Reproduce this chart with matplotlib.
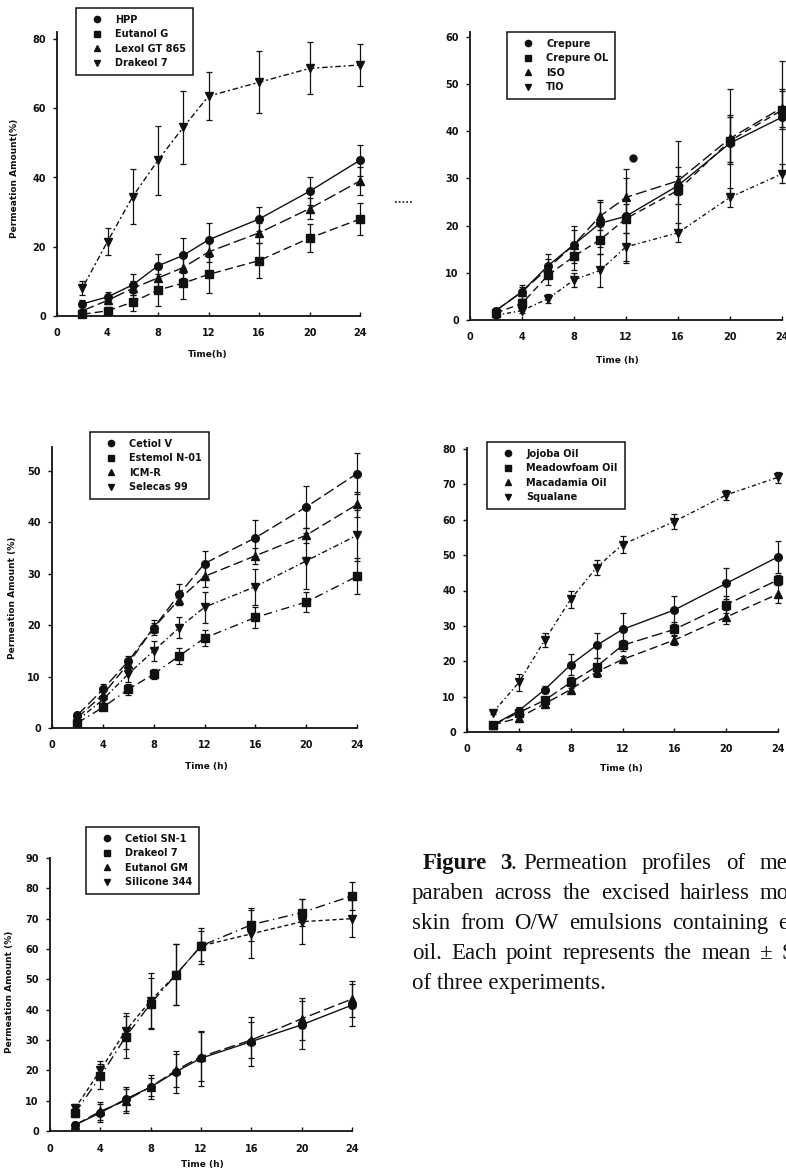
import matplotlib
matplotlib.use("Agg")
import matplotlib.pyplot as plt

W, H = 786, 1170
DPI = 100

hours = [2, 4, 6, 8, 10, 12, 16, 20, 24]

# panel 1
p1_labels = ["HPP", "Eutanol G", "Lexol GT 865", "Drakeol 7"]
p1_means = [
    [3.5, 5.5, 9.0, 14.5, 17.5, 22.0, 28.0, 36.0, 45.0],
    [0.5, 1.5, 4.0, 7.5, 9.5, 12.0, 16.0, 22.5, 28.0],
    [1.5, 4.5, 8.0, 11.0, 14.0, 18.5, 24.0, 31.0, 39.0],
    [8.0, 21.5, 34.5, 45.0, 54.5, 63.5, 67.5, 71.5, 72.5],
]
p1_errs = [
    [1.0, 1.5, 3.0, 3.5, 5.0, 5.0, 3.5, 4.0, 4.5],
    [0.5, 1.0, 2.5, 4.5, 4.5, 5.5, 5.0, 4.0, 4.5],
    [0.5, 1.0, 2.0, 2.5, 3.0, 3.0, 3.0, 3.0, 4.0],
    [2.0, 4.0, 8.0, 10.0, 10.5, 7.0, 9.0, 7.5, 6.0],
]

# panel 2
p2_labels = ["Crepure", "Crepure OL", "ISO", "TIO"]
p2_means = [
    [2.0, 6.0, 11.5, 16.0, 20.5, 22.0, 28.5, 37.5, 43.0],
    [1.5, 3.5, 9.5, 13.5, 17.0, 21.5, 27.5, 38.0, 44.5],
    [2.0, 6.0, 11.0, 16.0, 22.0, 26.0, 29.5, 38.5, 45.0],
    [1.0, 2.0, 4.5, 8.5, 10.5, 15.5, 18.5, 26.0, 31.0],
]
p2_errs = [
    [0.5, 1.5, 2.5, 4.0, 5.0, 10.0, 9.5, 11.5, 12.0],
    [0.5, 1.0, 2.0, 3.0, 3.0, 3.0, 3.0, 5.0, 4.0],
    [0.5, 1.0, 2.0, 3.0, 3.0, 4.0, 3.0, 5.0, 4.0],
    [0.5, 0.5, 1.0, 1.5, 3.5, 3.0, 2.0, 2.0, 2.0],
]
p2_stray_x, p2_stray_y = [12.5], [34.3]

# panel 3
p3_labels = ["Cetiol V", "Estemol N-01", "ICM-R", "Selecas 99"]
p3_means = [
    [2.5, 7.5, 13.0, 19.5, 26.0, 32.0, 37.0, 43.0, 49.5],
    [1.0, 4.0, 7.5, 10.5, 14.0, 17.5, 21.5, 24.5, 29.5],
    [2.0, 6.5, 12.5, 19.5, 25.0, 29.5, 33.5, 37.5, 43.5],
    [1.5, 5.5, 10.5, 15.0, 19.5, 23.5, 27.5, 32.5, 37.5],
]
p3_errs = [
    [0.5, 1.0, 1.0, 1.5, 2.0, 2.5, 3.5, 4.0, 4.0],
    [0.5, 0.5, 1.0, 1.0, 1.5, 1.5, 2.0, 2.0, 3.5],
    [0.5, 1.0, 1.0, 1.0, 1.0, 2.0, 1.5, 1.5, 2.5],
    [0.5, 1.0, 1.5, 2.0, 2.0, 3.0, 3.5, 5.5, 5.0],
]

# panel 4
p4_labels = ["Jojoba Oil", "Meadowfoam Oil", "Macadamia Oil", "Squalane"]
p4_means = [
    [2.0, 6.0, 12.0, 19.0, 24.5, 29.0, 34.5, 42.0, 49.5],
    [2.0, 5.5, 9.0, 14.0, 18.5, 24.5, 29.0, 36.0, 43.0],
    [2.0, 4.0, 8.0, 12.0, 17.0, 20.5, 26.0, 32.5, 39.0],
    [5.5, 14.0, 26.0, 37.5, 46.5, 53.0, 59.5, 67.0, 72.0],
]
p4_errs = [
    [0.5, 1.0, 1.0, 3.0, 3.5, 4.5, 4.0, 4.5, 4.5],
    [0.5, 1.0, 1.0, 1.5, 2.5, 1.5, 2.0, 2.5, 1.5],
    [0.5, 0.5, 1.0, 1.0, 1.5, 1.0, 1.5, 2.0, 2.5],
    [0.5, 2.5, 2.0, 2.5, 2.0, 2.5, 2.0, 1.5, 1.5],
]

# panel 5
p5_labels = ["Cetiol SN-1", "Drakeol 7", "Eutanol GM", "Silicone 344"]
p5_means = [
    [2.0, 6.0, 10.5, 14.5, 19.5, 24.0, 29.5, 35.0, 41.5],
    [6.0, 18.0, 31.0, 42.0, 51.5, 61.0, 68.0, 72.0, 77.5],
    [2.0, 6.5, 10.0, 14.5, 20.0, 24.5, 30.0, 37.0, 43.5],
    [7.5, 20.0, 33.0, 43.0, 51.5, 61.0, 65.0, 69.0, 70.0],
]
p5_errs = [
    [1.0, 3.0, 4.0, 3.0, 7.0, 9.0, 8.0, 8.0, 7.0],
    [1.5, 4.0, 7.0, 8.5, 10.0, 6.0, 5.5, 4.5, 4.5],
    [0.5, 3.0, 4.0, 4.0, 5.5, 8.0, 6.0, 7.0, 6.0],
    [1.5, 3.0, 6.0, 9.0, 10.0, 5.0, 8.0, 7.5, 6.0],
]

# caption: words per printed line; the scan cuts the page at the right edge
caption_lines = [
    ["Permeation", "profiles", "of", "methyl"],
    ["paraben", "across", "the", "excised", "hairless", "mouse"],
    ["skin", "from", "O/W", "emulsions", "containing", "each"],
    ["oil.", "Each", "point", "represents", "the", "mean", "\u00b1", "S.D."],
    ["of three experiments."],
]
# (x of first word, x of the last word that is still visible, its index)
caption_span = [
    (523, 760, 3),
    (412, 760, 5),
    (412, 778, 5),
    (412, 760, 6),
    (412, 412, 0),
]

MARKERS = ["o", "s", "^", "v"]
INK = "#111111"

fig = plt.figure(figsize=(W / DPI, H / DPI), dpi=DPI)
fig.patch.set_facecolor("white")


def make_ax(x0, x24, y0, ytick_px, ytick_val, ytop, yticks):
    # pixel positions of x=0, x=24, y=0 and one reference y tick
    ppu = (y0 - ytick_px) / ytick_val
    top_px = y0 - ytop * ppu
    ax = fig.add_axes([x0 / W, 1 - y0 / H, (x24 - x0) / W, (y0 - top_px) / H])
    ax.set_xlim(0, 24)
    ax.set_ylim(0, ytop)
    ax.set_facecolor("none")
    for s in ("top", "right"):
        ax.spines[s].set_visible(False)
    for s in ("left", "bottom"):
        ax.spines[s].set_linewidth(1.3)
        ax.spines[s].set_color(INK)
    ax.set_xticks([0, 4, 8, 12, 16, 20, 24])
    ax.set_yticks(yticks)
    ax.tick_params(axis="both", length=3, width=1, color=INK)
    ax.tick_params(axis="x", direction="in", pad=9)
    ax.tick_params(axis="y", direction="out", pad=5)
    for lab in ax.get_xticklabels() + ax.get_yticklabels():
        lab.set_fontsize(7)
        lab.set_fontweight("bold")
        lab.set_color(INK)
    return ax


def draw_series(ax, means, errs, labels, styles):
    handles = []
    for m, e, lab, mk, ls in zip(means, errs, labels, MARKERS, styles):
        line, _, _ = ax.errorbar(
            hours, m, yerr=e, color=INK, marker=mk, markersize=5.5,
            linestyle=ls, linewidth=1.0, elinewidth=0.9, capsize=2.2,
            capthick=0.9, clip_on=False, label=lab,
        )
        handles.append(line)
    return handles


def add_legend(ax, handles, labels, x, y):
    proxies = [plt.Line2D([], [], color=INK, marker=h.get_marker(),
                          linestyle="none", markersize=4.5) for h in handles]
    leg = ax.legend(
        proxies, labels, loc="upper left",
        bbox_to_anchor=(x / W, 1 - y / H), bbox_transform=fig.transFigure,
        fancybox=False, framealpha=1, edgecolor=INK, handlelength=3.0,
        handletextpad=0.35, borderpad=0.7, labelspacing=0.45,
        prop=dict(size=7, weight="bold"), borderaxespad=0,
    )
    leg.get_frame().set_linewidth(1.1)
    for t in leg.get_texts():
        t.set_color(INK)
    return leg


def place_labels(xlabel, ylabel, xl_pos, yl_pos):
    fig.text(xl_pos[0] / W, 1 - xl_pos[1] / H, xlabel, ha="center", va="center",
             fontsize=6.5, fontweight="bold", color=INK)
    if ylabel:
        fig.text(yl_pos[0] / W, 1 - yl_pos[1] / H, ylabel, ha="center",
                 va="center", rotation=90, fontsize=6.5, fontweight="bold",
                 color=INK)


# ---- panel 1
ax1 = make_ax(57, 360, 316, 39, 80, 82, [0, 20, 40, 60, 80])
h1 = draw_series(ax1, p1_means, p1_errs, p1_labels,
                 ["-", (0, (6, 3)), (0, (9, 3)), (0, (1.5, 2, 4, 2))])
add_legend(ax1, h1, p1_labels, 76, 8)
place_labels("Time(h)", "Permeation Amount(%)", (208, 355), (15, 178))

# ---- panel 2
ax2 = make_ax(470, 782, 320, 37, 60, 61, [0, 10, 20, 30, 40, 50, 60])
h2 = draw_series(ax2, p2_means, p2_errs, p2_labels,
                 ["-", (0, (5, 3)), (0, (8, 3)), (0, (3, 2, 1, 2))])
ax2.plot(p2_stray_x, p2_stray_y, "o", color=INK, markersize=5, clip_on=False)
add_legend(ax2, h2, p2_labels, 507, 32)
place_labels("Time (h)", "", (617, 360), None)
fig.text(403 / W, 1 - 200 / H, ".....", ha="center", va="center",
         fontsize=7, fontweight="bold", color="#444444")

# ---- panel 3
ax3 = make_ax(52, 357, 728, 471, 50, 54.6, [0, 10, 20, 30, 40, 50])
h3 = draw_series(ax3, p3_means, p3_errs, p3_labels,
                 [(0, (8, 3)), (0, (6, 3, 1, 3)), (0, (7, 3)), (0, (4, 2, 1, 2))])
add_legend(ax3, h3, p3_labels, 90, 432)
place_labels("Time (h)", "Permeation Amount (%)", (206, 766), (13, 598))

# ---- panel 4
ax4 = make_ax(467, 778, 732, 449, 80, 80.3, [0, 10, 20, 30, 40, 50, 60, 70, 80])
h4 = draw_series(ax4, p4_means, p4_errs, p4_labels,
                 ["-", (0, (8, 3)), (0, (6, 3)), (0, (3, 2, 1, 2))])
add_legend(ax4, h4, p4_labels, 487, 442)
place_labels("Time (h)", "", (621, 769), None)

# ---- panel 5
ax5 = make_ax(50, 352, 1131, 858, 90, 90, [0, 10, 20, 30, 40, 50, 60, 70, 80, 90])
h5 = draw_series(ax5, p5_means, p5_errs, p5_labels,
                 ["-", (0, (7, 3, 1, 3)), (0, (8, 3)), (0, (3, 2))])
add_legend(ax5, h5, p5_labels, 86, 827)
place_labels("Time (h)", "Permeation Amount (%)", (202, 1165), (10, 992))

# ---- caption, justified like the printed page and cut off by its edge
cap_font = dict(family=["Liberation Serif", "DejaVu Serif"], fontsize=16.5,
                color=INK, va="baseline")
renderer = fig.canvas.get_renderer()
fig.text(423 / W, 1 - 869 / H, "Figure", fontweight="bold", **cap_font)
fig.text(500 / W, 1 - 869 / H, "3", fontweight="bold", **cap_font)
fig.text(511 / W, 1 - 869 / H, ".", **cap_font)
for i, (words, (x_first, x_last, k_last)) in enumerate(zip(caption_lines, caption_span)):
    base_y = 869 + 30 * i
    texts = [fig.text(0, 1 - base_y / H, w, **cap_font) for w in words]
    widths = [t.get_window_extent(renderer).width for t in texts]
    gap = (x_last - x_first - sum(widths[:k_last])) / k_last if k_last else 0
    x = x_first
    for t, w in zip(texts, widths):
        t.set_x(x / W)
        x += w + gap

fig.savefig("out.png", dpi=DPI)
